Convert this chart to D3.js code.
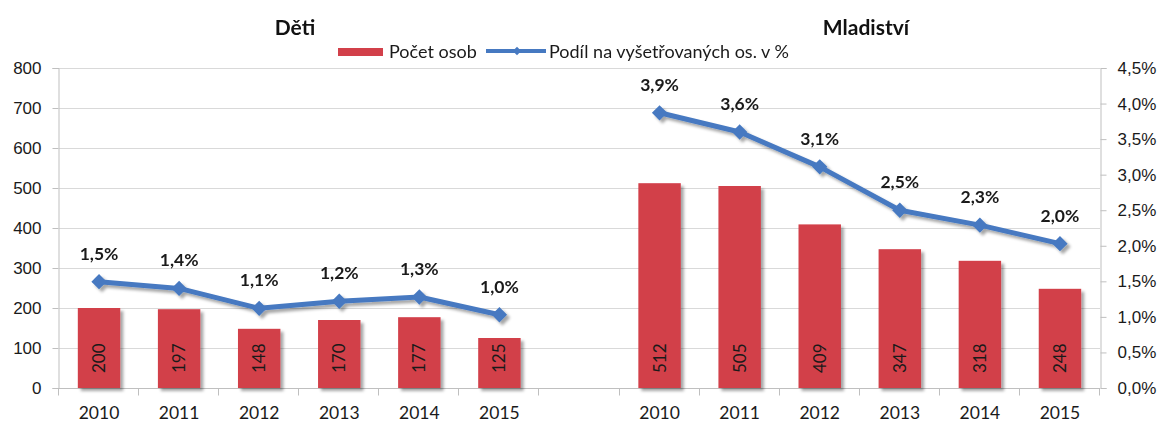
<!DOCTYPE html>
<html>
<head>
<meta charset="utf-8">
<title>Děti a mladiství</title>
<script src="https://d3js.org/d3.v7.min.js"></script>
<style>
    body { margin: 0; background: #fff; }
    svg { display: block; font-family: Lato, "Open Sans", sans-serif; }
    .tick text { font-size: 17px; fill: #1a1a1a; }
</style>
</head>
<body>
<svg id="chart" width="1161" height="421"></svg>
<script>
    'use strict';

    // data
    const years = ["2010", "2011", "2012", "2013", "2014", "2015"];
    const groupTitles = ["Děti", "Mladiství"];
    const detiCount = [200, 197, 148, 170, 177, 125];
    const mladiCount = [512, 505, 409, 347, 318, 248];
    const detiShare = [1.495, 1.40, 1.12, 1.22, 1.28, 1.03];
    const mladiShare = [3.87, 3.60, 3.11, 2.50, 2.29, 2.03];
    const countTicks = [0, 100, 200, 300, 400, 500, 600, 700, 800];
    const shareTicks = [0, 0.5, 1, 1.5, 2, 2.5, 3, 3.5, 4, 4.5];
    const legendLabels = ["Počet osob", "Podíl na vyšetřovaných os. v %"];

    const barColor = "#d2404a";
    const lineColor = "#4679c1";
    const comma = v => v.toFixed(1).replace(".", ",");

    const width = 1161;
    const margin = {left: 59, right: 61, top: 68, bottom: 33};
    const y0 = 421 - margin.bottom;

    const svg = d3.select("#chart");

    const defs = svg.append("defs");
    defs.append("filter").attr("id", "shadow")
        .attr("x", "-20%").attr("y", "-20%").attr("width", "150%").attr("height", "150%")
        .append("feDropShadow")
        .attr("dx", 3).attr("dy", 3).attr("stdDeviation", 1.6)
        .attr("flood-color", "#000").attr("flood-opacity", 0.35);

    // 13 slots: 6 years, one empty, 6 years
    const slots = d3.range(13);
    const x = d3.scaleBand()
        .domain(slots)
        .range([margin.left, width - margin.right])
        .padding(0);
    const slotOf = (g, i) => g === 0 ? i : i + 7;

    const y = d3.scaleLinear().domain([0, 800]).range([y0, margin.top]);
    const yr = d3.scaleLinear().domain([0, 4.5]).range([y0, margin.top]);

    const groups = [
        {title: groupTitles[0], counts: detiCount, share: detiShare},
        {title: groupTitles[1], counts: mladiCount, share: mladiShare}
    ];
    const points = groups.map((g, gi) => years.map((yy, i) => ({
        slot: slotOf(gi, i), year: yy, count: g.counts[i], share: g.share[i]
    })));

    // grid
    svg.append("g")
        .selectAll("line")
        .data(countTicks.slice(1))
        .join("line")
        .attr("x1", margin.left).attr("x2", width - margin.right)
        .attr("y1", d => Math.round(y(d)) + 0.5).attr("y2", d => Math.round(y(d)) + 0.5)
        .attr("stroke", "#d9d9d9");

    // left axis
    const gl = svg.append("g")
        .attr("transform", `translate(${margin.left - 0.5},0)`)
        .call(d3.axisLeft(y).tickValues(countTicks).tickSize(6).tickPadding(11));
    gl.select(".domain").attr("stroke", "#bfbfbf");
    gl.selectAll(".tick line").attr("stroke", "#bfbfbf");

    // right axis
    const gr = svg.append("g")
        .attr("transform", `translate(${width - margin.right + 0.5},0)`)
        .call(d3.axisRight(yr).tickValues(shareTicks).tickSize(6).tickPadding(11)
            .tickFormat(d => comma(d) + "%"));
    gr.select(".domain").attr("stroke", "#bfbfbf");
    gr.selectAll(".tick line").attr("stroke", "#bfbfbf");

    // bottom axis with ticks between categories
    const gb = svg.append("g").attr("transform", `translate(0,${y0 + 0.5})`);
    gb.append("line")
        .attr("x1", margin.left).attr("x2", width - margin.right)
        .attr("stroke", "#bfbfbf");
    gb.selectAll("line.tk")
        .data(d3.range(14))
        .join("line")
        .attr("class", "tk")
        .attr("x1", d => Math.round(margin.left + d * x.step()) - 0.5)
        .attr("x2", d => Math.round(margin.left + d * x.step()) - 0.5)
        .attr("y1", 0).attr("y2", 7)
        .attr("stroke", "#bfbfbf");
    gb.selectAll("text")
        .data(points.flat())
        .join("text")
        .attr("x", d => x(d.slot) + x.bandwidth() / 2)
        .attr("y", 30)
        .attr("text-anchor", "middle")
        .attr("font-size", 17.5)
        .attr("fill", "#1a1a1a")
        .text(d => d.year);

    // bars
    const barW = x.bandwidth() * 0.53;
    svg.append("g")
        .attr("filter", "url(#shadow)")
        .selectAll("rect")
        .data(points.flat())
        .join("rect")
        .attr("x", d => x(d.slot) + (x.bandwidth() - barW) / 2)
        .attr("y", d => y(d.count))
        .attr("width", barW)
        .attr("height", d => y0 - y(d.count))
        .attr("fill", barColor);

    svg.append("g")
        .selectAll("text")
        .data(points.flat())
        .join("text")
        .attr("transform", d => `translate(${x(d.slot) + x.bandwidth() / 2 + 6},${y0 - 15}) rotate(-90)`)
        .attr("font-size", 17)
        .attr("fill", "#1a1a1a")
        .text(d => d.count);

    // lines
    const line = d3.line()
        .x(d => x(d.slot) + x.bandwidth() / 2)
        .y(d => yr(d.share));
    const diamond = d3.symbol().type(d3.symbolDiamond2).size(150);

    const lg = svg.append("g").attr("filter", "url(#shadow)");
    points.forEach(pts => {
        lg.append("path")
            .datum(pts)
            .attr("d", line)
            .attr("fill", "none")
            .attr("stroke", lineColor)
            .attr("stroke-width", 5)
            .attr("stroke-linejoin", "round");
        lg.selectAll(null)
            .data(pts)
            .join("path")
            .attr("transform", d => `translate(${x(d.slot) + x.bandwidth() / 2},${yr(d.share)})`)
            .attr("d", diamond)
            .attr("fill", lineColor);
    });

    svg.append("g")
        .selectAll("text")
        .data(points.flat())
        .join("text")
        .attr("x", d => x(d.slot) + x.bandwidth() / 2)
        .attr("y", d => yr(d.share) - 22)
        .attr("text-anchor", "middle")
        .attr("font-size", 17.5)
        .attr("font-weight", "bold")
        .attr("fill", "#1a1a1a")
        .text(d => comma(d.share) + "%");

    // titles
    svg.append("g")
        .selectAll("text")
        .data(groups)
        .join("text")
        .attr("x", (d, i) => i === 0 ? 295 : 866)
        .attr("y", 35)
        .attr("text-anchor", "middle")
        .attr("font-size", 21)
        .attr("font-weight", "bold")
        .attr("fill", "#111")
        .text(d => d.title);

    // legend
    const leg = svg.append("g");
    leg.append("rect")
        .attr("x", 338).attr("y", 48).attr("width", 45).attr("height", 8)
        .attr("fill", barColor);
    leg.append("text")
        .attr("x", 389).attr("y", 58)
        .attr("font-size", 18).attr("fill", "#1a1a1a")
        .text(legendLabels[0]);
    leg.append("line")
        .attr("x1", 486).attr("x2", 546).attr("y1", 51).attr("y2", 51)
        .attr("stroke", lineColor).attr("stroke-width", 4);
    leg.append("path")
        .attr("transform", "translate(517,51)")
        .attr("d", d3.symbol().type(d3.symbolDiamond2).size(45))
        .attr("fill", lineColor);
    leg.append("text")
        .attr("x", 549).attr("y", 58)
        .attr("font-size", 18).attr("fill", "#1a1a1a")
        .text(legendLabels[1]);
</script>
</body>
</html>
